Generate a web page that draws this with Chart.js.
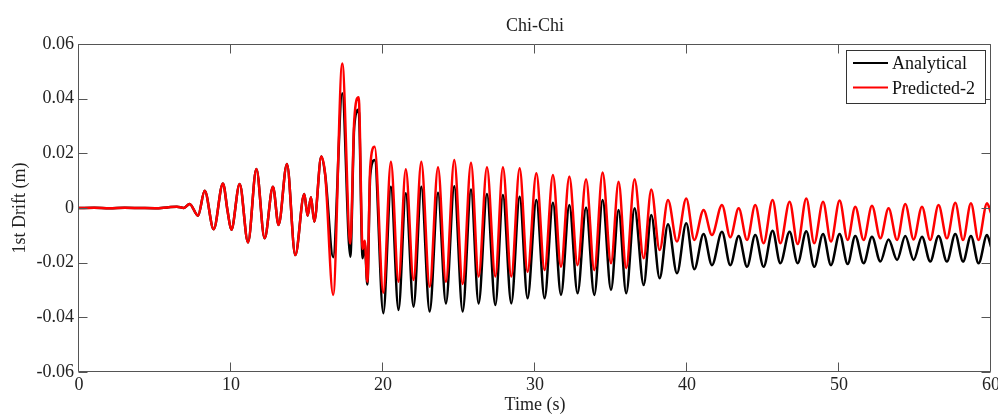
<!DOCTYPE html>
<html><head><meta charset="utf-8">
<script src="https://cdn.jsdelivr.net/npm/chart.js@4/dist/chart.umd.min.js"></script>
<style>html,body{margin:0;padding:0;background:#fff;overflow:hidden}</style>
</head><body><canvas id="c" width="998" height="416"></canvas>
<script>
const chartTitle = 'Chi-Chi';
const xTitle = 'Time (s)';
const yTitle = '1st Drift (m)';
const xTicks = [0, 10, 20, 30, 40, 50, 60];
const yTicks = [-0.06, -0.04, -0.02, 0, 0.02, 0.04, 0.06];
const seriesNames = ['Analytical', 'Predicted-2'];

const time = [
  0, 1, 2, 3, 4, 5, 5.8, 6.44, 6.9, 7.28,
  7.83, 8.27, 8.86, 9.47, 9.78, 10.02, 10.57, 11.12, 11.67, 12.21,
  12.76, 13.13, 13.68, 14.23, 14.82, 15.04, 15.26, 15.48, 15.94, 16.2,
  16.72, 17.32, 17.85, 18.11, 18.4, 18.66, 18.8, 18.97, 19.16, 19.45,
  20.02, 20.52, 21.02, 21.5, 22.01, 22.52, 23.07, 23.62, 24.14, 24.69,
  25.24, 25.79, 26.29, 26.84, 27.39, 27.89, 28.44, 28.99, 29.51, 30.09,
  30.63, 31.18, 31.71, 32.26, 32.8, 33.36, 33.9, 34.45, 35.0, 35.5,
  36.0, 36.55, 37.15, 37.65, 38.2, 38.75, 39.34, 39.95, 40.48, 41.09,
  41.64, 42.3, 42.85, 43.4, 43.95, 44.49, 45.04, 45.63, 46.14, 46.75,
  47.28, 47.85, 48.37, 48.95, 49.47, 50.04, 50.57, 51.07, 51.62, 52.17,
  52.72, 53.26, 53.82, 54.36, 54.91, 55.46, 56.0, 56.55, 57.1, 57.65,
  58.16, 58.68, 59.18, 59.74, 60
];

const analytical = [
  0, 0.0001, -0.0001, 0.0001, 0, -0.0001, 0.0002, 0.0005, 0, 0.0015,
  -0.0028, 0.0063, -0.0078, 0.009, -0.0013, -0.008, 0.0088, -0.0126, 0.0143, -0.0111,
  0.0078, -0.0062, 0.0161, -0.0172, 0.0051, -0.0028, 0.0039, -0.005, 0.0188, 0.012,
  -0.018, 0.042, -0.0178, 0.030, 0.036, -0.0184, -0.013, -0.028, 0.012, 0.0176,
  -0.0385, 0.0078, -0.0373, 0.0054, -0.0361, 0.0078, -0.0379, 0.0056, -0.0349, 0.008,
  -0.0379, 0.0068, -0.0349, 0.0051, -0.0355, 0.0048, -0.0349, 0.0041, -0.033, 0.0029,
  -0.033, 0.0019, -0.0318, 0.0011, -0.0312, 0.0002, -0.0318, 0.0029, -0.03, -0.0007,
  -0.0312, -0.0001, -0.0282, -0.0026, -0.0257, -0.0059, -0.0239, -0.0056, -0.0224, -0.0095,
  -0.0209, -0.0087, -0.0209, -0.0102, -0.0215, -0.0099, -0.0215, -0.0083, -0.0202, -0.0087,
  -0.0202, -0.0085, -0.0215, -0.0095, -0.0209, -0.0095, -0.0205, -0.0102, -0.0202, -0.0105,
  -0.0196, -0.0115, -0.019, -0.0102, -0.019, -0.0105, -0.0196, -0.0102, -0.0196, -0.0095,
  -0.0196, -0.0102, -0.0202, -0.0099, -0.0142
];

const predicted = [
  0, 0.0001, -0.0001, 0.0001, 0, -0.0001, 0.0002, 0.0005, 0, 0.0015,
  -0.0028, 0.0063, -0.0078, 0.009, -0.0013, -0.008, 0.0088, -0.0126, 0.0143, -0.0111,
  0.0078, -0.0062, 0.0161, -0.0172, 0.0051, -0.0028, 0.0039, -0.005, 0.0188, 0.012,
  -0.0318, 0.0529, -0.013, 0.0322, 0.0405, -0.015, -0.012, -0.027, 0.015, 0.0224,
  -0.031, 0.0169, -0.027, 0.0142, -0.0263, 0.0169, -0.0288, 0.0149, -0.027, 0.0176,
  -0.0278, 0.0166, -0.0251, 0.0149, -0.0251, 0.0149, -0.0251, 0.0145, -0.0233, 0.0127,
  -0.0227, 0.0121, -0.0215, 0.0115, -0.0209, 0.0105, -0.0227, 0.013, -0.0202, 0.0096,
  -0.022, 0.0105, -0.0184, 0.0068, -0.0154, 0.0029, -0.0123, 0.0035, -0.0117, -0.0007,
  -0.0099, 0.0011, -0.0107, -0.0001, -0.0117, 0.0011, -0.0129, 0.0029, -0.0129, 0.0023,
  -0.0132, 0.0035, -0.0129, 0.0023, -0.0123, 0.0027, -0.0117, 0.0005, -0.0117, 0.0008,
  -0.0111, -0.0001, -0.0117, 0.0015, -0.0115, 0.0005, -0.0117, 0.0011, -0.0111, 0.0019,
  -0.0117, 0.0017, -0.0117, 0.0017, -0.0018
];

const FONT = '"Liberation Serif", "Times New Roman", serif';
const seriesColors = {'Analytical': '#000000', 'Predicted-2': '#ff0000'};

const framePlugin = {
  id: 'frame',
  afterDatasetsDraw(chart) {
    const {ctx, chartArea: a, scales: {x, y}} = chart;
    ctx.save();
    ctx.strokeStyle = '#555555';
    ctx.lineWidth = 1;
    const xl = Math.round(a.left) - 0.5, xr = Math.round(a.right) - 0.5;
    const yt = Math.round(a.top) + 0.5, yb = Math.round(a.bottom) - 0.5;
    ctx.beginPath();
    ctx.rect(xl, yt, xr - xl, yb - yt);
    const TL = 9;
    xTicks.forEach(v => {
      const px = Math.round(x.getPixelForValue(v)) - 0.5;
      ctx.moveTo(px, yb); ctx.lineTo(px, yb - TL);
      ctx.moveTo(px, yt); ctx.lineTo(px, yt + TL);
    });
    yTicks.forEach(v => {
      const py = Math.round(y.getPixelForValue(v)) + 0.5;
      ctx.moveTo(xl, py); ctx.lineTo(xl + TL, py);
      ctx.moveTo(xr, py); ctx.lineTo(xr - TL, py);
    });
    ctx.stroke();
    ctx.restore();
  },
  afterDraw(chart) {
    const {ctx, chartArea: a} = chart;
    ctx.save();
    ctx.fillStyle = '#222222';
    ctx.font = '18px ' + FONT;
    ctx.textAlign = 'center';
    ctx.textBaseline = 'alphabetic';
    ctx.fillText(chartTitle, (a.left + a.right) / 2, 31);
    const bx = 846.5, by = 50.5, bw = 139, bh = 53;
    ctx.fillStyle = '#ffffff';
    ctx.fillRect(bx, by, bw, bh);
    ctx.strokeStyle = '#333333';
    ctx.lineWidth = 1;
    ctx.strokeRect(bx, by, bw, bh);
    ctx.textAlign = 'left';
    ctx.textBaseline = 'middle';
    seriesNames.forEach((name, i) => {
      const ly = 63 + i * 24.5;
      ctx.strokeStyle = seriesColors[name];
      ctx.lineWidth = 2;
      ctx.beginPath();
      ctx.moveTo(853, ly); ctx.lineTo(888, ly);
      ctx.stroke();
      ctx.fillStyle = '#111111';
      ctx.fillText(name, 892, ly + 1.5);
    });
    ctx.restore();
  }
};

const pts = arr => time.map((t, i) => ({x: t, y: arr[i]}));

new Chart(document.getElementById('c'), {
  type: 'line',
  data: {
    datasets: [
      {label: 'Predicted-2', data: pts(predicted), borderColor: seriesColors['Predicted-2'], borderWidth: 2.5,
       pointRadius: 0, cubicInterpolationMode: 'monotone', fill: false},
      {label: 'Analytical', data: pts(analytical), borderColor: seriesColors['Analytical'], borderWidth: 2.5,
       pointRadius: 0, cubicInterpolationMode: 'monotone', fill: false}
    ]
  },
  options: {
    responsive: false,
    devicePixelRatio: 1,
    animation: false,
    layout: {padding: {top: 44, right: 7, left: 0, bottom: 0}},
    plugins: {legend: {display: false}, title: {display: false}, tooltip: {enabled: false}},
    scales: {
      x: {
        type: 'linear', min: 0, max: 60,
        afterBuildTicks: s => { s.ticks = xTicks.map(v => ({value: v})); },
        afterFit: s => { s.height = 44; s.paddingLeft = 0; s.paddingRight = 0; },
        grid: {display: false, drawTicks: false},
        border: {display: false},
        ticks: {font: {family: FONT, size: 18}, color: '#222222', padding: 2, maxRotation: 0, autoSkip: false},
        title: {display: true, text: xTitle, font: {family: FONT, size: 18}, color: '#222222', padding: {top: 0, bottom: 0}}
      },
      y: {
        type: 'linear', min: -0.06, max: 0.06,
        afterBuildTicks: s => { s.ticks = yTicks.map(v => ({value: v})); },
        afterFit: s => { s.width = 79; s.paddingTop = 0; s.paddingBottom = 0; },
        grid: {display: false, drawTicks: false},
        border: {display: false},
        ticks: {font: {family: FONT, size: 18}, color: '#222222', padding: 5, autoSkip: false,
                callback: v => Math.abs(v) < 1e-9 ? '0' : v.toFixed(2)},
        title: {display: true, text: yTitle, font: {family: FONT, size: 18}, color: '#222222', padding: {top: 9, bottom: 0}}
      }
    }
  },
  plugins: [framePlugin]
});
</script>
</body></html>
